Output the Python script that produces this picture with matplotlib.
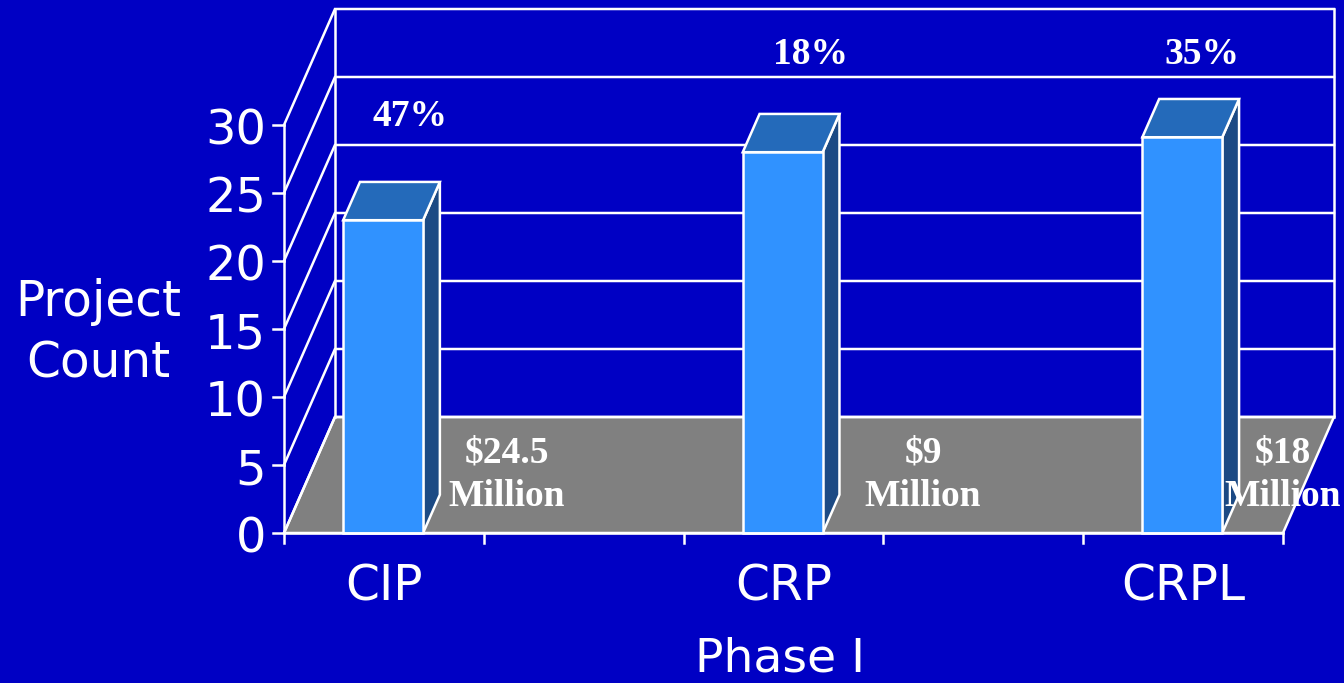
import matplotlib
matplotlib.use('Agg')
import matplotlib.pyplot as plt
from matplotlib.patches import Polygon

W, H = 1344, 683
BG = '#0000C4'
FLOOR = '#808080'
FRONT = '#3092FF'
TOP = '#246ABA'
SIDE = '#1C4A84'

categories = ['CIP', '', 'CRP', '', 'CRPL']
bar_pos = [0.496, 2.496, 4.496]
bar_labels = ['CIP', 'CRP', 'CRPL']
counts = [23, 28, 29.1]
y_ticks = [0, 5, 10, 15, 20, 25, 30]
pct_labels = ['47%', '18%', '35%']
money_labels = ['$24.5\nMillion', '$9\nMillion', '$18\nMillion']

# depth offset of the back wall, in data units
DX = 51 / 200
DY = 116 / 13.6
BAR_W = 0.4
BAR_DEPTH = 0.33
LW = 1.8


def proj(x, y, d=0.0):
    return x + DX * d, y + DY * d


fig = plt.figure(figsize=(W / 100, H / 100), dpi=100, facecolor=BG)
ax = fig.add_axes([284 / W, 1 - 533 / H, 999 / W, 408 / H])
ax.set_xlim(0, len(categories))
ax.set_ylim(0, 30)
ax.axis('off')

# floor
floor = [proj(0, 0), proj(5, 0), proj(5, 0, 1), proj(0, 0, 1)]
ax.add_patch(Polygon(floor, closed=True, fc=FLOOR, ec='white', lw=LW, clip_on=False, zorder=1))

# walls and grid
for v in y_ticks:
    xs = [proj(0, v)[0], proj(0, v, 1)[0], proj(5, v, 1)[0]]
    ys = [proj(0, v)[1], proj(0, v, 1)[1], proj(5, v, 1)[1]]
    ax.plot(xs, ys, color='white', lw=LW, clip_on=False, zorder=2, solid_joinstyle='miter')
    ax.plot([-0.055, 0], [v, v], color='white', lw=LW, clip_on=False, zorder=2)
for a, b in [(proj(0, 0), proj(0, 30)), (proj(0, 0, 1), proj(0, 30, 1)), (proj(5, 0, 1), proj(5, 30, 1))]:
    ax.plot([a[0], b[0]], [a[1], b[1]], color='white', lw=LW, clip_on=False, zorder=2)

# x axis line and ticks
ax.plot([0, 5], [0, 0], color='white', lw=LW, clip_on=False, zorder=6)
for i in range(len(categories) + 1):
    ax.plot([i, i], [0, -0.75], color='white', lw=LW, clip_on=False, zorder=6)

# bars
for x, v in zip(bar_pos, counts):
    l, r = x - BAR_W / 2, x + BAR_W / 2
    side = [proj(r, 0), proj(r, 0, BAR_DEPTH), proj(r, v, BAR_DEPTH), proj(r, v)]
    top = [proj(l, v), proj(r, v), proj(r, v, BAR_DEPTH), proj(l, v, BAR_DEPTH)]
    ax.add_patch(Polygon(side, closed=True, fc=SIDE, ec='white', lw=LW, clip_on=False, zorder=4))
    ax.add_patch(Polygon(top, closed=True, fc=TOP, ec='white', lw=LW, clip_on=False, zorder=4))
    ax.bar(x, v, BAR_W, color=FRONT, edgecolor='white', lw=LW, clip_on=False, zorder=5)

# axis text
sans = dict(color='white', family='DejaVu Sans', clip_on=False)
for v in y_ticks:
    ax.text(-0.09, v - 0.42, str(v), ha='right', va='center', fontsize=34.5, **sans)
for x, name in zip([0.5, 2.5, 4.5], bar_labels):
    ax.text(x, -3.95, name, ha='center', va='center', fontsize=35, **sans)
ax.text(2.48, -9.3, 'Phase I', ha='center', va='center', fontsize=34, **sans)
fig.text(98 / W, 1 - 333 / H, 'Project\nCount', ha='center', va='center', fontsize=35,
         color='white', family='DejaVu Sans', linespacing=1.35)

# annotations
serif = dict(color='white', family='Liberation Serif', fontweight='bold', zorder=7)
pct_at = [(410, 117), (811, 54), (1202, 54)]
for (px, py), s in zip(pct_at, pct_labels):
    fig.text(px / W, 1 - py / H, s, ha='center', va='center', fontsize=27, **serif)
money_at = [(507, 475), (923, 475), (1283, 475)]
for (px, py), s in zip(money_at, money_labels):
    fig.text(px / W, 1 - py / H, s, ha='center', va='center', fontsize=27, linespacing=1.3, **serif)

fig.savefig('out.png', dpi=100, facecolor=BG)
